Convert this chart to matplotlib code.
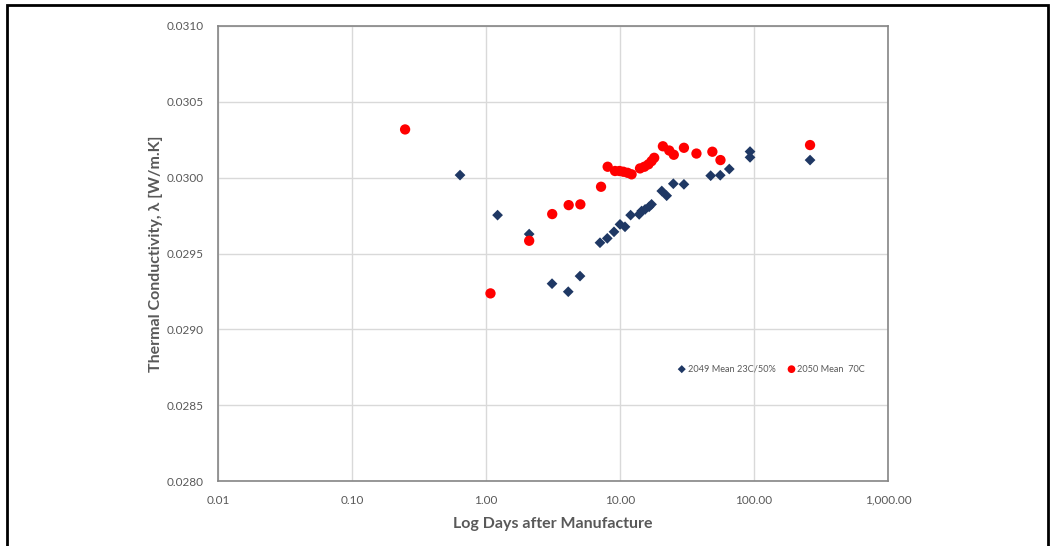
import matplotlib
matplotlib.use("Agg")
import matplotlib.pyplot as plt
from matplotlib.patches import Rectangle
from matplotlib.ticker import FuncFormatter

# 2049 Mean 23C/50%
days_2049 = [0.64, 1.22, 2.10, 3.11, 4.11, 5.03, 7.09, 8.04, 9.02, 10.0, 10.9,
             12.0, 13.9, 14.5, 15.4, 16.5, 17.2, 20.5, 22.3, 25.0, 30.0, 47.5,
             56.0, 65.4, 93.4, 93.4, 262]
k_2049 = [0.030017, 0.029753, 0.029628, 0.029301, 0.029248, 0.029351, 0.029571,
          0.029600, 0.029643, 0.029692, 0.029676, 0.029753, 0.029758, 0.029780,
          0.029791, 0.029808, 0.029824, 0.029912, 0.029881, 0.029960, 0.029956,
          0.030013, 0.030016, 0.030057, 0.030172, 0.030134, 0.030116]

# 2050 Mean 70C
days_2050 = [0.249, 1.08, 2.10, 3.12, 4.14, 5.06, 7.22, 8.09, 9.18, 9.92, 10.6,
             11.4, 12.2, 14.1, 15.2, 16.3, 17.2, 18.0, 20.9, 23.3, 25.2, 30.0,
             37.2, 48.9, 56.2, 262]
k_2050 = [0.030318, 0.029237, 0.029584, 0.029760, 0.029819, 0.029824, 0.029940,
          0.030072, 0.030044, 0.030044, 0.030039, 0.030032, 0.030022, 0.030061,
          0.030072, 0.030088, 0.030109, 0.030131, 0.030207, 0.030179, 0.030151,
          0.030197, 0.030159, 0.030171, 0.030116, 0.030215]

x_ticks = [0.01, 0.1, 1, 10, 100, 1000]
y_ticks = [0.0280, 0.0285, 0.0290, 0.0295, 0.0300, 0.0305, 0.0310]

plt.rcParams['font.family'] = ['Lato', 'DejaVu Sans']
grey = '#595959'

fig = plt.figure(figsize=(10.5, 5.46), dpi=100)
ax = fig.add_axes([218 / 1050, 1 - 481 / 546, 670 / 1050, 455 / 546])

ax.scatter(days_2049, k_2049, marker='D', s=30, color='#1f3864',
           edgecolors='none', label='2049 Mean 23C/50%', zorder=3)
ax.scatter(days_2050, k_2050, marker='o', s=55, color='#ff0000',
           edgecolors='none', label='2050 Mean  70C', zorder=3)

ax.set_xscale('log')
ax.set_xlim(0.01, 1000)
ax.set_ylim(0.0280, 0.0310)
ax.set_xticks(x_ticks)
ax.minorticks_off()
ax.xaxis.set_major_formatter(FuncFormatter(lambda v, p: f'{v:,.2f}'))
ax.set_yticks(y_ticks)
ax.yaxis.set_major_formatter(FuncFormatter(lambda v, p: f'{v:.4f}'))
ax.tick_params(length=0, labelsize=8.5, colors=grey, pad=10)

ax.grid(True, color='#d9d9d9', linewidth=1)
ax.set_axisbelow(True)
for s in ax.spines.values():
    s.set_color('#858585')
    s.set_linewidth(1.2)

ax.set_xlabel('Log Days after Manufacture', fontsize=11.5, fontweight='bold',
              color=grey, labelpad=8)
ax.set_ylabel('Thermal Conductivity, λ [W/m.K]', fontsize=11.5,
              fontweight='bold', color=grey, labelpad=3)

leg = ax.legend(loc='center', bbox_to_anchor=(0.826, 0.246), ncol=2,
                frameon=False, fontsize=6.6, handletextpad=0.2,
                handlelength=0.9, columnspacing=1.3, markerscale=0.75)
for t in leg.get_texts():
    t.set_color(grey)

# outer black frame of the picture
fig.patches.append(Rectangle((7 / 1050, -0.05), 1041 / 1050, 1.05 - 5 / 546,
                             transform=fig.transFigure, fill=False,
                             edgecolor='black', linewidth=2))

fig.savefig('out.png', dpi=100)
